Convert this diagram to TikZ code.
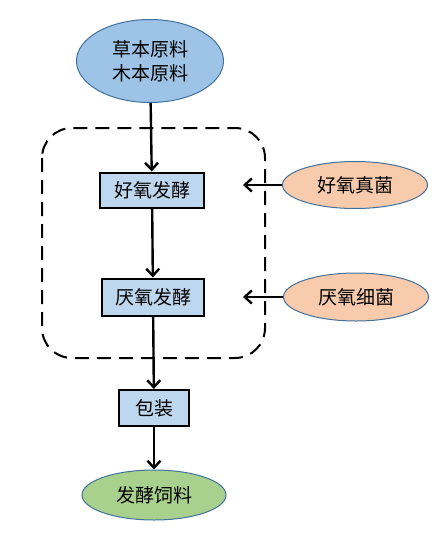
\documentclass[tikz,border=0pt]{standalone}
\usepackage{fontspec}
\setmainfont{Noto Sans CJK SC}
\usetikzlibrary{arrows.meta}
\usetikzlibrary{shapes.geometric}
\definecolor{rawcol}{HTML}{9DC3E6}
\definecolor{stepcol}{HTML}{BDD7EE}
\definecolor{microcol}{HTML}{F8CBAD}
\definecolor{feedcol}{HTML}{A9D18E}
\definecolor{rimcol}{HTML}{41719C}
\tikzset{>={Straight Barb[length=7pt,width=13pt]}}
\tikzset{
  blob/.style={ellipse,draw=rimcol,line width=1pt,fill=#1,inner sep=0pt},
  procbox/.style={draw=black,line width=2pt,fill=stepcol,
                  minimum width=#1,minimum height=35pt,inner sep=0pt},
  procbox/.default=104pt,
  flow/.style={->,line width=2.4pt}}

\begin{document}
\begin{tikzpicture}[x=1pt,y=-1pt,font=\fontsize{19}{24}\selectfont]
  \useasboundingbox (0,0) rectangle (438,533);
  \def\rx{243}  % end of side arrows
  \coordinate (TL) at (42,128);  % top left of fermentation frame
  \coordinate (BR) at (265,358); % bottom right of fermentation frame

  % FRAME
  \draw[line width=2pt,dash pattern=on 14pt off 8pt,rounded corners=30pt] (TL) rectangle (BR);

  % NODES
  \node[blob=rawcol,minimum width=147pt,minimum height=83pt,align=center] (raw) at (150,61) {草本原料\\木本原料};
  \node[procbox] (aer) at (152,190) {好氧发酵};
  \node[procbox=102pt,minimum height=37pt] (ana) at (153,297) {厌氧发酵};
  \node[procbox=70pt,minimum height=36pt] (pack) at (154,408) {包装};
  \node[blob=feedcol,minimum width=144pt,minimum height=50pt] (feed) at (154,495) {发酵饲料};
  \node[blob=microcol,minimum width=145pt,minimum height=47pt] (fungi) at (355,185) {好氧真菌};
  \node[blob=microcol,minimum width=145pt,minimum height=48pt] (bact) at (356,297) {厌氧细菌};
  \coordinate (fungitip) at (\rx,185);
  \coordinate (bacttip) at (\rx,297);

  % ARROWS
  \draw[flow] (raw) -- (aer);
  \draw[flow] (aer) -- (ana);
  \draw[flow] (ana) -- (pack);
  \draw[flow] (pack) -- (feed);
  \draw[flow] (fungi) -- (fungitip);
  \draw[flow] (bact) -- (bacttip);
\end{tikzpicture}
\end{document}
